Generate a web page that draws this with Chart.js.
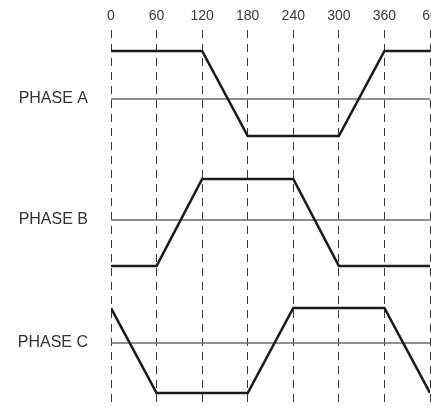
<!DOCTYPE html>
<html>
<head>
<meta charset="utf-8">
<script src="https://cdn.jsdelivr.net/npm/chart.js@4"></script>
<style>
  html, body { margin: 0; padding: 0; background: #fff; overflow: hidden; width: 431px; height: 407px; }
  canvas { display: block; }
</style>
</head>
<body>
<canvas id="c" width="431" height="407" style="width:431px;height:407px"></canvas>
<script>
// Electrical angle (degrees) at each corner of the trapezoids
const degrees = [0, 60, 120, 180, 240, 300, 360, 420];
// Waveform levels (vertical units, bottom = 0)
const phaseA = [356, 356, 356, 271, 271, 271, 356, 356];
const phaseB = [141, 141, 228, 228, 228, 141, 141, 141];
const phaseC = [99, 14, 14, 14, 99, 99, 99, 14];
// Zero (centre) line of each phase
const phaseCentres = [308, 187, 64];
const phaseNames = ['PHASE A', 'PHASE B', 'PHASE C'];
const tickDegrees = [0, 60, 120, 180, 240, 300, 360, 420];
const tickLabels = ['0', '60', '120', '180', '240', '300', '360', '60'];

const toPts = arr => degrees.map((d, i) => ({ x: d, y: arr[i] }));

const waveStyle = {
  borderColor: '#1c1c1c', borderWidth: 2.6, pointRadius: 0,
  tension: 0, fill: false, order: 1
};
const centreStyle = {
  borderColor: '#6a6a6a', borderWidth: 1.4, pointRadius: 0,
  tension: 0, fill: false, order: 2
};

const datasets = [
  ...phaseCentres.map((c, i) => Object.assign({
    label: phaseNames[i] + ' zero',
    data: [{ x: degrees[0], y: c }, { x: degrees[degrees.length - 1], y: c }]
  }, centreStyle)),
  Object.assign({ label: 'PHASE A', data: toPts(phaseA) }, waveStyle),
  Object.assign({ label: 'PHASE B', data: toPts(phaseB) }, waveStyle),
  Object.assign({ label: 'PHASE C', data: toPts(phaseC) }, waveStyle)
];

new Chart(document.getElementById('c'), {
  type: 'line',
  data: { datasets },
  options: {
    responsive: false,
    maintainAspectRatio: false,
    devicePixelRatio: 1,
    animation: false,
    events: [],
    layout: { padding: { top: 0, left: 0, right: 1, bottom: 0 } },
    plugins: { legend: { display: false }, tooltip: { enabled: false } },
    scales: {
      x: {
        type: 'linear',
        position: 'top',
        min: 0, max: 420,
        afterBuildTicks: axis => { axis.ticks = tickDegrees.map(v => ({ value: v })); },
        afterFit: axis => {
          axis.height = 30;
          axis.paddingLeft = 0; axis.paddingRight = 0;
        },
        ticks: {
          autoSkip: false, maxRotation: 0, minRotation: 0,
          padding: 5,
          color: '#3a3a3a',
          font: { family: 'Liberation Sans, Arial, sans-serif', size: 14 },
          callback: v => tickLabels[tickDegrees.indexOf(v)]
        },
        grid: {
          display: true, drawTicks: false, color: '#3a3a3a', lineWidth: 1
        },
        border: { display: false, dash: [8, 6] }
      },
      y: {
        type: 'linear',
        min: 0, max: 377,
        afterBuildTicks: axis => { axis.ticks = phaseCentres.map(v => ({ value: v })); },
        afterFit: axis => {
          axis.width = 111;
          axis.paddingTop = 0; axis.paddingBottom = 0;
        },
        ticks: {
          autoSkip: false, padding: 23,
          color: '#333',
          font: { family: 'Liberation Sans, Arial, sans-serif', size: 16 },
          callback: v => phaseNames[phaseCentres.indexOf(v)]
        },
        grid: { display: false, drawTicks: false },
        border: { display: false }
      }
    }
  }
});
</script>
</body>
</html>
